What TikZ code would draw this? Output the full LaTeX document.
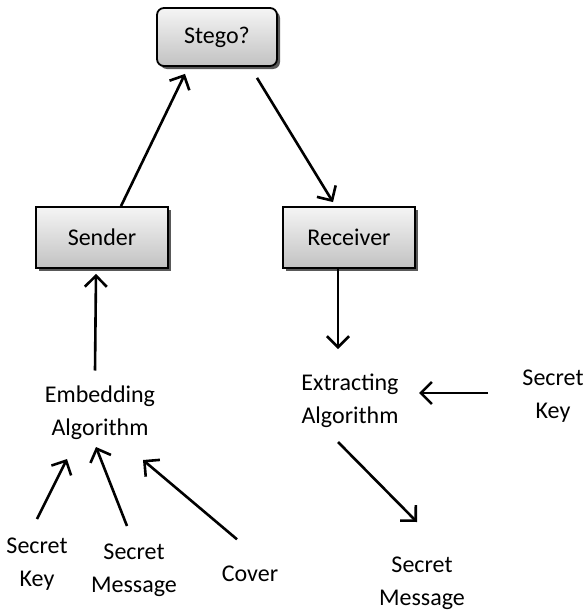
\documentclass[tikz,border=0pt]{standalone}
\usepackage{fontspec}
\setmainfont{Carlito}
\usetikzlibrary{arrows.meta,calc,shadows}
\begin{document}
\begin{tikzpicture}[x=1pt,y=-1pt,
  font=\fontsize{24}{33}\selectfont,
  box/.style={draw=black, line width=1.8pt, inner sep=0pt,
    top color=black!4, bottom color=black!24,
    drop shadow={shadow xshift=3pt, shadow yshift=-3pt, fill=black!65, opacity=1}},
  lbl/.style={align=center, inner sep=0pt},
  flow/.style={line width=2.6pt, -{Straight Barb[length=11pt,width=22pt,line width=2.6pt]}}
]
\useasboundingbox (0,0) rectangle (587,613);

% boxes
\node[box, rounded corners=7pt, minimum width=120pt, minimum height=58pt] (stego) at (217,37) {Stego?};
\node[box, minimum width=132pt, minimum height=61pt] (sender) at (102,237.5) {Sender};
\node[box, minimum width=132pt, minimum height=61pt] (receiver) at (349,237.5) {Receiver};

% plain labels
\node[lbl] (embed) at (100,412.5) {Embedding\\Algorithm};
\node[lbl] (extract) at (350,400.5) {Extracting\\Algorithm};
\node[lbl] (keyR) at (553,396.5) {Secret\\Key};
\node[lbl] (msgR) at (422,583) {Secret\\Message};
\node[lbl] (keyL) at (37,564.5) {Secret\\Key};
\node[lbl] (msgM) at (134,570) {Secret\\Message};
\node[lbl, anchor=base] (cover) at (250,581) {Cover};

% connectors
\draw[flow] ($(sender.north)+(19,0)$) -- ($(stego.south)+(-32,7)$);
\draw[flow] ($(stego.south)+(40,11)$) -- ($(receiver.north)+(-16,-4)$);
\draw[flow] ($(embed)+(-5,-42)$) -- ($(sender.south)+(-6,5)$);
\draw[flow] ($(receiver.south)+(-11,0)$) -- ($(extract)+(-12,-51.5)$);
\draw[flow] ($(keyR)+(-65,-3.5)$) -- ($(extract)+(69,-7.5)$);
\draw[flow] ($(extract)+(-12,41.5)$) -- ($(msgR)+(-5,-61)$);
\draw[flow] ($(keyL)+(0,-45.5)$) -- ($(embed)+(-33,46.5)$);
\draw[flow] ($(msgM)+(-7,-44)$) -- ($(embed)+(-4,34.5)$);
\draw[flow] ($(cover)+(-13,-34)$) -- ($(embed)+(43,47.5)$);
\end{tikzpicture}
\end{document}
